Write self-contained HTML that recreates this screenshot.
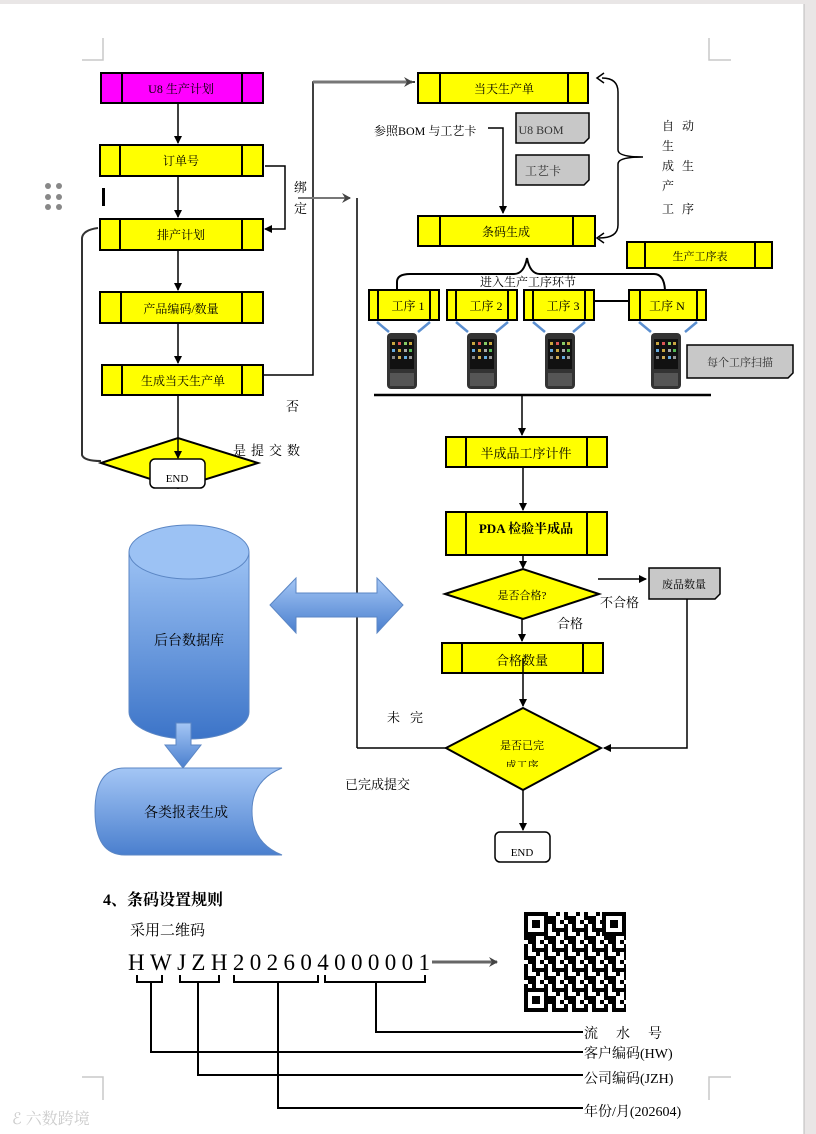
<!DOCTYPE html>
<html><head><meta charset="utf-8"><style>
html,body{margin:0;padding:0;background:#e9e6e6;}
svg{display:block}
text{font-family:"Liberation Serif","Noto Serif CJK SC","Noto Sans CJK SC",serif;}
</style></head><body>
<svg width="816" height="1134" viewBox="0 0 816 1134" xmlns="http://www.w3.org/2000/svg">
<defs>
<marker id="ah" markerWidth="8" markerHeight="8" refX="7" refY="4" orient="auto" markerUnits="userSpaceOnUse"><path d="M0,0 L8,4 L0,8 z" fill="#000"/></marker>
<marker id="ahg" markerWidth="10" markerHeight="10" refX="8" refY="5" orient="auto" markerUnits="userSpaceOnUse"><path d="M0,0 L9,5 L0,10 L3,5 z" fill="#444"/></marker>
<linearGradient id="bl" x1="0" y1="0" x2="0" y2="1"><stop offset="0" stop-color="#9cc2f4"/><stop offset="1" stop-color="#3c74c8"/></linearGradient>
<linearGradient id="bl2" x1="0" y1="0" x2="0" y2="1"><stop offset="0" stop-color="#a4c6f5"/><stop offset="1" stop-color="#4a7fce"/></linearGradient>
<pattern id="qr" width="20" height="20" patternUnits="userSpaceOnUse">
<rect width="20" height="20" fill="#fff"/>
<rect x="0" y="0" width="4" height="4"/><rect x="8" y="0" width="8" height="4"/><rect x="4" y="4" width="4" height="4"/><rect x="12" y="4" width="4" height="8"/><rect x="0" y="8" width="8" height="4"/><rect x="16" y="8" width="4" height="4"/><rect x="4" y="12" width="4" height="8"/><rect x="8" y="16" width="8" height="4"/><rect x="16" y="12" width="4" height="4"/>
</pattern>
<g id="pda">
<rect x="0" y="0" width="30" height="56" rx="4" fill="#333"/>
<rect x="3" y="6" width="24" height="30" fill="#111"/>
<g fill="#c9a640"><rect x="5" y="9" width="3" height="3"/><rect x="11" y="9" width="3" height="3" fill="#d55"/><rect x="17" y="9" width="3" height="3" fill="#8c6"/><rect x="22" y="9" width="3" height="3"/><rect x="5" y="16" width="3" height="3" fill="#6ad"/><rect x="11" y="16" width="3" height="3"/><rect x="17" y="16" width="3" height="3" fill="#aaa"/><rect x="22" y="16" width="3" height="3" fill="#5b5"/><rect x="5" y="23" width="3" height="3" fill="#888"/><rect x="11" y="23" width="3" height="3" fill="#ca5"/><rect x="17" y="23" width="3" height="3" fill="#6ad"/><rect x="22" y="23" width="3" height="3" fill="#999"/></g>
<rect x="3" y="40" width="24" height="13" fill="#555"/>
</g>
</defs>

<rect x="0" y="0" width="804" height="1134" fill="#fff"/>
<rect x="0" y="0" width="804" height="4" fill="#e9e6e6"/>
<line x1="804" y1="4" x2="804" y2="1134" stroke="#bbb" stroke-width="1"/>

<!-- corner marks -->
<g stroke="#c8c8c8" stroke-width="1.5" fill="none">
<path d="M103,38 V60 H82"/><path d="M709,38 V60 H731"/>
<path d="M82,1077 H103 V1100"/><path d="M731,1077 H709 V1100"/>
</g>
<g fill="#888"><circle cx="48" cy="186" r="3"/><circle cx="59" cy="186" r="3"/><circle cx="48" cy="197" r="3"/><circle cx="59" cy="197" r="3"/><circle cx="48" cy="207" r="3"/><circle cx="59" cy="207" r="3"/></g>
<rect x="102" y="188" width="3" height="18" fill="#000"/>
<text x="12" y="1124" font-size="16" fill="#ccc" font-family="Liberation Sans,Noto Sans CJK SC,sans-serif">ℰ 六数跨境</text>

<!-- left boxes -->
<g stroke="#000" stroke-width="2">
<rect x="101" y="73" width="162" height="30" fill="#ff00ff"/><line x1="122" y1="73" x2="122" y2="103"/><line x1="242" y1="73" x2="242" y2="103"/>
<rect x="100" y="145" width="163" height="31" fill="#ffff00"/><line x1="120" y1="145" x2="120" y2="176"/><line x1="242" y1="145" x2="242" y2="176"/>
<rect x="100" y="219" width="163" height="31" fill="#ffff00"/><line x1="120" y1="219" x2="120" y2="250"/><line x1="242" y1="219" x2="242" y2="250"/>
<rect x="100" y="292" width="163" height="31" fill="#ffff00"/><line x1="121" y1="292" x2="121" y2="323"/><line x1="242" y1="292" x2="242" y2="323"/>
<rect x="102" y="365" width="161" height="30" fill="#ffff00"/><line x1="122" y1="365" x2="122" y2="395"/><line x1="242" y1="365" x2="242" y2="395"/>
<path d="M101,463 L178,438 L258,463 L178,488 Z" fill="#ffff00"/>
</g>
<rect x="150" y="459" width="55" height="29" rx="5" fill="#fff" stroke="#000" stroke-width="1.5"/>
<g font-size="12" text-anchor="middle">
<text x="181" y="93">U8 生产计划</text>
<text x="181" y="165">订单号</text>
<text x="181" y="239">排产计划</text>
<text x="181" y="313">产品编码/数量</text>
<text x="183" y="385">生成当天生产单</text>
<text x="177" y="482" font-size="11">END</text>
</g>
<g stroke="#000" stroke-width="1.5" fill="none">
<line x1="178" y1="103" x2="178" y2="143" marker-end="url(#ah)"/>
<line x1="178" y1="176" x2="178" y2="217" marker-end="url(#ah)"/>
<line x1="178" y1="250" x2="178" y2="290" marker-end="url(#ah)"/>
<line x1="178" y1="323" x2="178" y2="363" marker-end="url(#ah)"/>
<line x1="178" y1="395" x2="178" y2="458" marker-end="url(#ah)"/>
<path d="M265,166 H285 V229 H265" marker-end="url(#ah)"/>
<path d="M101,461 Q84,461 82,455 V238 Q83,230 98,228" stroke="#333" stroke-width="2"/>
<path d="M263,375 H313 V82 H415" />
<line x1="357" y1="198" x2="357" y2="748"/>
<line x1="357" y1="748" x2="446" y2="748"/>
</g>
<line x1="313" y1="82" x2="412" y2="82" stroke="#777" stroke-width="3" marker-end="url(#ahg)"/>
<line x1="298" y1="198" x2="350" y2="198" stroke="#777" stroke-width="2" marker-end="url(#ahg)"/>
<g font-size="13"><text x="294" y="192">绑</text><text x="294" y="213">定</text>
<text x="286" y="411">否</text>
<text x="233" y="455" letter-spacing="5">是提交数</text></g>

<!-- right column -->
<g stroke="#000" stroke-width="2">
<rect x="418" y="73" width="170" height="30" fill="#ffff00"/><line x1="440" y1="73" x2="440" y2="103"/><line x1="568" y1="73" x2="568" y2="103"/>
<rect x="418" y="216" width="177" height="30" fill="#ffff00"/><line x1="440" y1="216" x2="440" y2="246"/><line x1="573" y1="216" x2="573" y2="246"/>
<rect x="627" y="242" width="145" height="26" fill="#ffff00"/><line x1="645" y1="242" x2="645" y2="268"/><line x1="755" y1="242" x2="755" y2="268"/>
<rect x="369" y="290" width="70" height="30" fill="#ffff00"/><line x1="378" y1="290" x2="378" y2="320"/><line x1="430" y1="290" x2="430" y2="320"/>
<rect x="447" y="290" width="70" height="30" fill="#ffff00"/><line x1="456" y1="290" x2="456" y2="320"/><line x1="508" y1="290" x2="508" y2="320"/>
<rect x="524" y="290" width="70" height="30" fill="#ffff00"/><line x1="533" y1="290" x2="533" y2="320"/><line x1="585" y1="290" x2="585" y2="320"/>
<rect x="629" y="290" width="77" height="30" fill="#ffff00"/><line x1="640" y1="290" x2="640" y2="320"/><line x1="697" y1="290" x2="697" y2="320"/>
<line x1="594" y1="301" x2="629" y2="301"/>
<rect x="446" y="437" width="161" height="30" fill="#ffff00"/><line x1="466" y1="437" x2="466" y2="467"/><line x1="587" y1="437" x2="587" y2="467"/>
<rect x="446" y="512" width="161" height="43" fill="#ffff00"/><line x1="466" y1="512" x2="466" y2="555"/><line x1="587" y1="512" x2="587" y2="555"/>
<path d="M445,594 L523,569 L599,594 L523,619 Z" fill="#ffff00"/>
<rect x="442" y="643" width="161" height="30" fill="#ffff00"/><line x1="462" y1="643" x2="462" y2="673"/><line x1="583" y1="643" x2="583" y2="673"/>
<path d="M446,748 L523,708 L601,748 L523,790 Z" fill="#ffff00"/>
</g>
<g stroke="#000" stroke-width="1.5" fill="#c8c8c8">
<path d="M516,113 H589 V138 L584,143 H516 Z"/>
<path d="M516,155 H589 V180 L584,185 H516 Z"/>
<path d="M687,345 H793 V373 L788,378 H687 Z"/>
<path d="M649,568 H720 V594 L715,599 H649 Z"/>
</g>
<rect x="495" y="832" width="55" height="30" rx="5" fill="#fff" stroke="#000" stroke-width="1.5"/>
<g font-size="12" text-anchor="middle">
<text x="504" y="93">当天生产单</text>
<text x="506" y="236">条码生成</text>
<text x="700" y="260" font-size="11">生产工序表</text>
<text x="408" y="310">工序 1</text>
<text x="486" y="310">工序 2</text>
<text x="563" y="310">工序 3</text>
<text x="667" y="310">工序 N</text>
<text x="740" y="366" font-size="11" fill="#333">每个工序扫描</text>
<text x="541" y="134" fill="#333">U8 BOM</text>
<text x="543" y="175" fill="#333">工艺卡</text>
<text x="684" y="588" font-size="11">废品数量</text>
<text x="526" y="458" font-size="13">半成品工序计件</text>
<text x="526" y="533" font-size="13" font-weight="bold">PDA 检验半成品</text>
<text x="522" y="599" font-size="11">是否合格?</text>
<text x="522" y="665" font-size="13">合格数量</text>
<text x="522" y="749" font-size="11">是否已完</text>
<text x="522" y="769" font-size="11" clip-path="inset(0 0 5px 0)">成工序</text>
<text x="522" y="856" font-size="11">END</text>
</g>
<g font-size="12">
<text x="374" y="135">参照BOM 与工艺卡</text>
<text x="480" y="286" font-size="12">进入生产工序环节</text>
<text x="662" y="130">自</text><text x="682" y="130">动</text>
<text x="662" y="150">生</text>
<text x="662" y="170">成</text><text x="682" y="170">生</text>
<text x="662" y="190">产</text>
<text x="662" y="213">工</text><text x="682" y="213">序</text>
<text x="600" y="607" font-size="13">不合格</text>
<text x="557" y="628" font-size="13">合格</text>
<text x="387" y="722" font-size="13" letter-spacing="10">未完</text>
<text x="345" y="789" font-size="13">已完成提交</text>
</g>
<g stroke="#000" stroke-width="1.5" fill="none">
<path d="M488,128 H503 V213" marker-end="url(#ah)"/>
<path d="M602,78 Q618,78 618,92 V150 Q618,157 643,157 Q618,157 618,164 V225 Q618,238 599,238"/>
<path d="M604,73 L597,78 L604,83"/><path d="M604,233 L597,238 L604,243" />
<path d="M397,290 V282 Q397,274 410,274 H514 Q524,274 527,258 Q530,274 540,274 H654 Q664,274 665,290" stroke-width="2"/>
<line x1="374" y1="395" x2="711" y2="395" stroke-width="2.5"/>
<line x1="522" y1="395" x2="522" y2="435" marker-end="url(#ah)"/>
<line x1="523" y1="467" x2="523" y2="510" marker-end="url(#ah)"/>
<line x1="523" y1="555" x2="523" y2="568" marker-end="url(#ah)"/>
<line x1="598" y1="579" x2="646" y2="579" marker-end="url(#ah)"/>
<line x1="522" y1="619" x2="522" y2="641" marker-end="url(#ah)"/>
<line x1="523" y1="658" x2="523" y2="706" marker-end="url(#ah)"/>
<path d="M687,599 V748 H604" marker-end="url(#ah)"/>
<line x1="523" y1="790" x2="523" y2="830" marker-end="url(#ah)"/>
</g>
<g stroke="#5b8fd0" stroke-width="2.5">
<line x1="377" y1="322" x2="389" y2="332"/><line x1="430" y1="322" x2="418" y2="332"/>
<line x1="456" y1="322" x2="468" y2="332"/><line x1="508" y1="322" x2="496" y2="332"/>
<line x1="533" y1="322" x2="545" y2="332"/><line x1="585" y1="322" x2="573" y2="332"/>
<line x1="639" y1="322" x2="651" y2="332"/><line x1="697" y1="322" x2="685" y2="332"/>
</g>
<use href="#pda" x="387" y="333"/><use href="#pda" x="467" y="333"/><use href="#pda" x="545" y="333"/><use href="#pda" x="651" y="333"/>

<!-- database -->
<path d="M129,552 V712 A60,27 0 0 0 249,712 V552 Z" fill="url(#bl)" stroke="#5b86c4"/>
<ellipse cx="189" cy="552" rx="60" ry="27" fill="#9cc2f4" stroke="#5b86c4"/>
<text x="189" y="645" font-size="14" text-anchor="middle" font-family="Liberation Sans,Noto Sans CJK SC,sans-serif">后台数据库</text>
<path d="M270,605 L296,578 V593 H377 V578 L403,605 L377,633 V617 H296 V633 Z" fill="url(#bl2)" stroke="#5b86c4"/>
<path d="M176,723 H191 V745 H201 L183,768 L165,745 H176 Z" fill="url(#bl2)" stroke="#5b86c4"/>
<path d="M125,768 H282 Q252,780 252,811 Q252,843 282,855 H125 Q95,855 95,811 Q95,768 125,768 Z" fill="url(#bl2)" stroke="#5b86c4"/>
<text x="186" y="817" font-size="14" text-anchor="middle" font-family="Liberation Sans,Noto Sans CJK SC,sans-serif">各类报表生成</text>

<!-- bottom section -->
<text x="103" y="905" font-size="16" font-weight="bold">4、条码设置规则</text>
<text x="130" y="935" font-size="15">采用二维码</text>
<text x="128" y="970" font-size="23" textLength="302" lengthAdjust="spacing">HWJZH202604000001</text>
<g stroke="#000" stroke-width="2" fill="none">
<path d="M137,975 V982 H162 V975"/><path d="M180,975 V982 H219 V975"/>
<path d="M234,975 V982 H318 V975"/><path d="M325,975 V982 H425 V975"/>
</g>
<g stroke="#000" stroke-width="2" fill="none">
<path d="M376,982 V1032 H583"/>
<path d="M151,982 V1052 H583"/>
<path d="M198,982 V1075 H583"/>
<path d="M278,982 V1108 H583"/>
</g>
<line x1="432" y1="962" x2="497" y2="962" stroke="#666" stroke-width="3" marker-end="url(#ahg)"/>
<g font-size="14">
<text x="584" y="1038" letter-spacing="18">流水号</text>
<text x="584" y="1058">客户编码(HW)</text>
<text x="584" y="1083">公司编码(JZH)</text>
<text x="584" y="1116">年份/月(202604)</text>
</g>
<!-- QR -->
<rect x="524" y="912" width="102" height="100" fill="url(#qr)"/>
<g fill="#000">
<rect x="524" y="912" width="24" height="24"/><rect x="528" y="916" width="16" height="16" fill="#fff"/><rect x="532" y="920" width="8" height="8"/>
<rect x="602" y="912" width="24" height="24"/><rect x="606" y="916" width="16" height="16" fill="#fff"/><rect x="610" y="920" width="8" height="8"/>
<rect x="524" y="988" width="24" height="24"/><rect x="528" y="992" width="16" height="16" fill="#fff"/><rect x="532" y="996" width="8" height="8"/>
</g>
</svg>
</body></html>
